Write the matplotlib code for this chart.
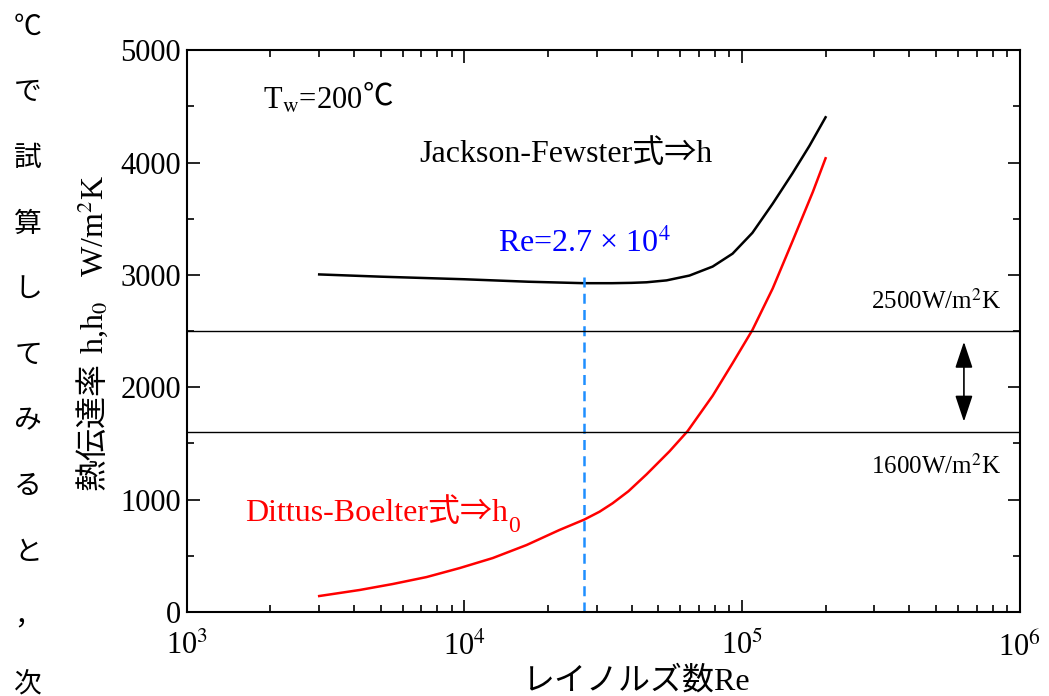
import matplotlib
matplotlib.use('Agg')
import matplotlib.pyplot as plt
from matplotlib.ticker import LogLocator, MultipleLocator, FixedLocator

plt.rcParams['font.family'] = ['Liberation Serif', 'Noto Sans CJK JP', 'DejaVu Sans']
plt.rcParams['mathtext.fontset'] = 'stix'

# Jackson-Fewster (h)
re_jf = [3000, 5000, 1e4, 1.7e4, 2.7e4, 3.4e4, 4e4, 4.53e4, 5.35e4, 6.47e4, 7.84e4, 9.25e4,
         1.09e5, 1.29e5, 1.52e5, 1.75e5, 2e5]
h_jf = [3005, 2985, 2962, 2940, 2927, 2927, 2930, 2935, 2952, 2995, 3075, 3190,
        3375, 3635, 3905, 4150, 4404]

# Dittus-Boelter (h0)
re_db = [3000, 4200, 5520, 7310, 9620, 1.265e4, 1.675e4, 2.2e4, 2.7e4, 3.07e4, 3.42e4,
         3.9e4, 4.53e4, 5.48e4, 6.37e4, 7.84e4, 9.25e4, 1.09e5, 1.29e5, 1.52e5, 1.8e5, 2e5]
h_db = [142, 196, 249, 311, 391, 480, 596, 730, 822, 893, 968,
        1075, 1225, 1430, 1610, 1925, 2215, 2510, 2880, 3300, 3740, 4039]

re_mark = 2.7e4
h_mark_top = 2980
h_upper = 2500
h_lower = 1600
y_ticks = [0, 1000, 2000, 3000, 4000, 5000]
side_text = ['℃', 'で', '試', '算', 'し', 'て', 'み', 'る', 'と', '，', '次']

fig = plt.figure(figsize=(10.49, 6.96), dpi=100)
ax = fig.add_axes([0.178, 0.1207, 0.794, 0.807])

ax.plot(re_jf, h_jf, color='black', lw=1.8)
ax.plot(re_db, h_db, color='red', lw=1.8)
ax.plot([re_mark, re_mark], [0, h_mark_top], color='#1E8FFF', lw=1.8, ls=(0, (4, 2.5)))
ax.axhline(h_upper, color='black', lw=1.0)
ax.axhline(h_lower, color='black', lw=1.0)

ax.annotate('', xy=(6.3e5, 2430), xytext=(6.3e5, 1670),
            arrowprops=dict(arrowstyle='<|-|>,head_length=0.9,head_width=0.3',
                            color='black', lw=1.2, mutation_scale=18))

ax.set_xscale('log')
ax.set_xlim(1e3, 1e6)
ax.set_ylim(0, 5000)
ax.set_xticks([1e3, 1e4, 1e5, 1e6])
ax.xaxis.set_minor_locator(LogLocator(base=10, subs=range(2, 10), numticks=10))
ax.set_xticklabels(['10$^{3}$', '10$^{4}$', '10$^{5}$', '10$^{6}$'])
ax.yaxis.set_major_locator(FixedLocator(y_ticks))
ax.yaxis.set_minor_locator(MultipleLocator(500))
ax.set_yticklabels([str(v) for v in y_ticks])

ax.tick_params(which='both', direction='in', top=True, right=True, labelsize=22, width=1.2)
ax.tick_params(which='major', length=9, pad=4)
ax.tick_params(which='minor', length=5)
ax.tick_params(axis='x', pad=14)
for s in ax.spines.values():
    s.set_linewidth(1.5)

ax.set_xlabel('レイノルズ数Re', fontsize=23)
ax.xaxis.set_label_coords(0.54, -0.098)

# y label: CJK part and math part as two texts
yl = fig.text(93 / 1049, 1 - 490 / 696, '熱伝達率', fontsize=23, rotation=90,
              ha='center', va='bottom')
ax.annotate(' h,h$_0$   W/m$^2$K', xy=(0.5, 1), xycoords=yl, annotation_clip=False,
            fontsize=23, rotation=90, ha='center', va='bottom')

tw = ax.text(1.88e3, 4550, 'T$_\\mathrm{w}$=200', fontsize=22, va='center')
ax.annotate('℃', xy=(1, 0.5), xycoords=tw, xytext=(0, 3), textcoords='offset points',
            fontsize=22, va='center', ha='left')
ax.text(6.9e3, 4080, 'Jackson-Fewster式⇒h', fontsize=23, va='center')
ax.text(re_mark, 3280, 'Re=2.7 × 10$^4$', fontsize=23, color='blue', ha='center', va='center')
ax.text(8.6e5, 2760, '2500W/m$^2$K', fontsize=18, ha='right', va='center')
ax.text(8.6e5, 1300, '1600W/m$^2$K', fontsize=18, ha='right', va='center')
db = ax.text(1.62e3, 880, 'Dittus-Boelter式⇒h', fontsize=23, color='red', va='center')
ax.annotate('0', xy=(1, 0.05), xycoords=db, fontsize=17, color='red', va='center', ha='left')

# cut-off vertical text from the surrounding page
for i, ch in enumerate(side_text):
    fig.text(28 / 1049, 1 - (28 + i * 65.7) / 696, ch, fontsize=20, ha='center', va='center')

fig.savefig('out.png', dpi=100)
